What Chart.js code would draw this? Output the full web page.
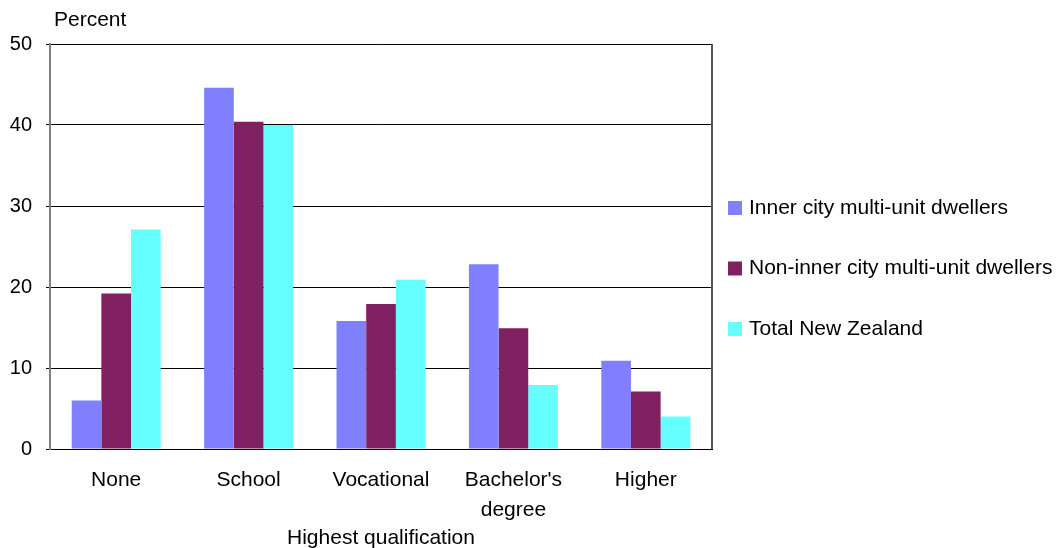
<!DOCTYPE html>
<html>
<head>
<meta charset="utf-8">
<script src="https://cdn.jsdelivr.net/npm/chart.js@4"></script>
<style>
  html, body { margin: 0; padding: 0; background: #fff; }
  #wrap { width: 1058px; height: 548px; }
</style>
</head>
<body>
<div id="wrap"><canvas id="barChart"></canvas></div>
<script>
const categories = ["None", "School", "Vocational", ["Bachelor's", "degree"], "Higher"];
const seriesNames = ["Inner city multi-unit dwellers", "Non-inner city multi-unit dwellers", "Total New Zealand"];
const innerCity = [6, 44.6, 15.8, 22.8, 10.9];
const nonInnerCity = [19.2, 40.4, 17.9, 14.9, 7.1];
const totalNZ = [27.1, 40, 20.9, 7.9, 4];
const yTicks = [0, 10, 20, 30, 40, 50];

const fontFamily = "'Liberation Sans', Arial, sans-serif";
Chart.defaults.font.family = fontFamily;
Chart.defaults.font.size = 21;
Chart.defaults.color = "#000";

// legend on the right, "Percent" caption and right edge of the frame
const extras = {
    id: "extras",
    afterDraw(chart) {
        const { ctx, chartArea } = chart;
        ctx.save();
        ctx.font = "21px " + fontFamily;
        ctx.textBaseline = "middle";
        ctx.textAlign = "left";
        chart.data.datasets.forEach((ds, i) => {
            const y = chartArea.top + 164 + i * 60.5;
            ctx.fillStyle = ds.backgroundColor;
            ctx.fillRect(chartArea.right + 16, y - 7, 14, 14);
            ctx.fillStyle = "#000";
            ctx.fillText(ds.label, chartArea.right + 37, y);
        });
        ctx.fillText("Percent", chartArea.left + 4, chartArea.top - 24);

        ctx.strokeStyle = "#555";
        ctx.lineWidth = 2;
        ctx.beginPath();
        ctx.moveTo(chartArea.right, chartArea.top);
        ctx.lineTo(chartArea.right, chartArea.bottom);
        ctx.stroke();
        ctx.restore();
    }
};

const ctx = document.getElementById("barChart");
const barChart = new Chart(ctx, {
    type: "bar",
    data: {
        labels: categories,
        datasets: [
            { label: seriesNames[0], data: innerCity, backgroundColor: "#8080ff" },
            { label: seriesNames[1], data: nonInnerCity, backgroundColor: "#802060" },
            { label: seriesNames[2], data: totalNZ, backgroundColor: "#66ffff" }
        ]
    },
    options: {
        responsive: true,
        maintainAspectRatio: false,
        animation: false,
        categoryPercentage: 0.672,
        barPercentage: 1,
        layout: {
            padding: { top: 44, right: 346, left: 0, bottom: 0 }
        },
        plugins: {
            legend: { display: false },
            tooltip: { enabled: false }
        },
        scales: {
            x: {
                grid: { display: false, drawTicks: false },
                border: { color: "#000", width: 1 },
                ticks: { padding: 16, font: { size: 21, lineHeight: 30 / 21 }, maxRotation: 0 },
                title: {
                    display: true,
                    text: "Highest qualification",
                    font: { size: 21, lineHeight: 1 },
                    padding: { top: 0, bottom: -1 }
                },
                afterFit(scale) { scale.height = 99; }
            },
            y: {
                min: yTicks[0],
                max: yTicks[yTicks.length - 1],
                ticks: { stepSize: 10, padding: 14, font: { size: 20 } },
                grid: { color: "#000", lineWidth: 1, tickLength: 4 },
                border: { color: "#808080", width: 2 },
                afterFit(scale) { scale.width = 50; }
            }
        }
    },
    plugins: [extras]
});
</script>
</body>
</html>
